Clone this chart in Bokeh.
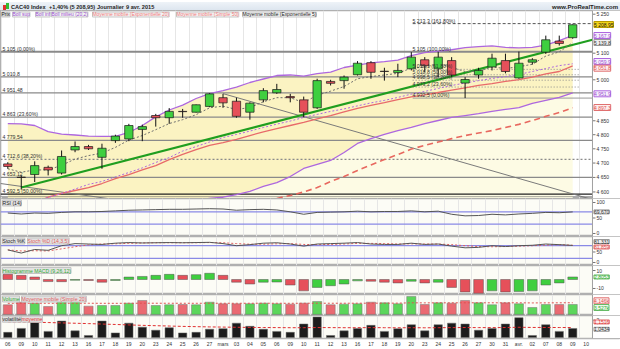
from bokeh.plotting import figure
from bokeh.layouts import column
from bokeh.models import (Range1d, FixedTicker, Grid, Label, Span, CustomJSTickFormatter, Div,
                          BoxAnnotation)
from bokeh.embed import file_html
from bokeh.resources import INLINE

# ---------------- data ----------------
dates = ["06","09","10","11","12","13","16","17","18","19","20","23","24","25","26","27",
         "mars","03","04","05","06","09","10","11","12","13","16","17","18","19","20","23",
         "24","25","26","27","30","31","avr.","02","07","08","09","10"]

opens  = [4697,4651,4660,4685,4665,4746,4758,4720,4779,4785,4819,4869,4861,4884,4881,4902,
          4934,4921,4881,4926,4952,4938,4926,4897,4994,4997,5019,5064,5032,5027,5041,5075,
          5041,5072,4988,5018,5048,5072,5007,5066,5104,5146,5159]
highs  = [4703,4657,4706,4691,4744,4776,4764,4768,4800,4839,4836,4875,4896,4893,4909,4951,
          4948,4934,4917,4969,4985,4948,4938,5004,5000,5016,5070,5070,5045,5060,5104,5085,
          5105,5085,5010,5045,5098,5098,5106,5081,5167,5167,5210]
lows   = [4680,4608,4634,4657,4660,4738,4746,4680,4771,4777,4777,4829,4839,4861,4880,4899,
          4897,4861,4854,4917,4948,4917,4863,4893,4979,4967,5016,5004,4997,5010,5035,5028,
          5010,5010,4932.5,5004,5035,5024,5004,5057,5097,5129,5155]
closes = [4688,4650,4691,4676,4723,4758,4750,4752,4795,4833,4829,4861,4884,4883,4908,4948,
          4915,4866,4914,4960,4964,4934,4881,4997,4987,5010,5062,5028,5031,5035,5085,5053,
          5085,5018,5001,5035,5081,5031,5062,5075,5151,5137,5208.95]

boll_sup = [4840,4839,4833,4811,4802,4799,4795,4794,4794,4808,4833,4864,4889,4907,4931,4949,
            4960,4973,4990,5003,5016,5018,5014,5023,5029,5046,5055,5063,5068,5074,5091,5102,
            5108,5113,5121,5125,5128,5122,5120,5122,5131,5148,5167.9]
boll_mid = [4537,4550,4567,4581,4595,4610,4626,4636,4652,4667,4683,4702,4719,4742,4758,4774,
            4790,4801,4813,4826,4838,4849,4862,4873,4884,4893,4904,4915,4924,4935,4947,4957,
            4968,4979,4988,4997,5005,5012,5020,5031,5042,5053,5059.9]
boll_inf = [4234,4261,4301,4351,4388,4421,4457,4478,4510,4526,4533,4540,4549,4565,4572,4578,
            4582,4591,4602,4619,4632,4653,4681,4695,4709,4737,4769,4786,4801,4815,4826,4840,
            4851,4862,4869,4876,4884,4891,4898,4913,4924,4935,4951.9]
ema20    = [4537,4550,4564,4582,4595,4605,4615,4629,4646,4660,4676,4691,4712,4730,4747,4762,
            4772,4783,4797,4810,4822,4833,4844,4857,4869,4882,4895,4906,4916,4927,4937,4944,
            4953,4962,4970,4979,4986,4994,5001,5010,5022,5031,5051.8]
sma50_start = 20
sma50    = [4578,4588,4600,4615,4636,4653,4674,4693,4712,4730,4749,4762,4774,4786,4797,4806,
            4815,4826,4837,4851,4866,4880,4897.3]
ema5     = [4680,4668,4676,4676,4692,4714,4726,4735,4755,4781,4797,4818,4840,4854,4872,4897,
            4903,4891,4898,4919,4934,4934,4916,4943,4958,4975,5004,5012,5018,5024,5044,5047,
            5060,5046,5031,5032,5048,5042,5049,5058,5089,5105,5140]

# horizontal levels
left_levels = [5105, 5010.8, 4951.48, 4863.0, 4779.54, 4650.0, 4592.5]
left_texts  = ["5 105 (0,00%)", "5 010,8", "4 951,48", "4 863 (23,60%)", "4 779,54", "4 653,12",
               "4 592,5 (50,00%)"]
fib38_level, fib38_text = 4712.6, "4 712,6 (38,20%)"
bottom_dotted_level = 4584.0
fib_right_levels = [5213.3, 5105.0, 5039.1, 5018.8, 4998.5, 4973.2, 4932.5]
fib_right_texts  = ["5 213,3 (161,80%)", "5 105 (100,00%)", "5 039,1 (61,80%)", "5 018,8 (50,00%)",
                    "4 998,5 (38,20%)", "4 973,2 (23,60%)", "4 932,5 (0,00%)"]
fib_right_start = 30.1
trend_green = (1.0, 4615.0, 43.47, 5151.0)
trend_gray1 = (16.0, 4949.0, 43.47, 4574.0)
trend_gray2 = (-0.54, 4629.0, 8.0, 4574.0)

price_ticks = [5250, 5100, 5000, 4850, 4800, 4750, 4700, 4650, 4600]
price_tick_labels = ["5 250", "5 100", "5 000", "4 850", "4 800", "4 750", "4 700", "4 650", "4 600"]

rsi     = [66,63,66,65,68,70,70,71,73,75,76,77,78,78,79,80,79,75,77,78,76,70,62,68,69,70,72,70,
           71,71,73,70,72,62,57,58,62,60,63,65,68,67,69.67]
stoch_k = [60,45,62,58,80,90,88,86,92,95,93,94,95,94,95,96,90,80,85,92,94,88,78,88,90,92,95,88,
           86,86,92,86,88,78,70,72,80,76,80,82,88,85,81.33]
stoch_d = [60,55,56,55,65,75,84,88,89,91,93,94,94,94,94,95,94,90,87,87,89,90,86,85,86,88,91,91,
           90,88,89,88,88,85,80,76,75,76,78,80,83,85,81.86]
macd_hist = [5.7,4.6,2.7,-2.3,-2.4,-0.8,-1.1,-3.0,-1.1,2.7,3.4,4.6,5.7,4.6,5.4,6.9,4.6,-3.0,-5.0,
             -3.0,-2.8,-6.1,-12.6,-8.8,-6.9,-5.0,-1.5,-1.9,-3.0,-3.8,-1.9,-3.8,-3.0,-8.8,-13.8,
             -15.3,-12.6,-13.8,-13.3,-12.6,-6.1,-3.8,2.8053]
volume  = [3.42,4.34,3.99,2.82,4.59,4.59,2.93,3.17,3.17,3.99,4.94,3.17,3.42,3.53,3.42,4.34,3.77,
           3.77,3.77,3.99,3.77,3.65,3.99,4.59,3.42,3.65,3.77,4.34,4.10,3.77,6.35,3.53,4.10,3.99,
           4.94,4.10,3.42,4.10,3.77,2.47,3.53,3.53,3.527]
vol_sma20 = [3.95,3.96,3.97,3.95,3.96,3.98,3.96,3.95,3.94,3.95,3.98,3.97,3.96,3.96,3.95,3.97,
             3.96,3.95,3.96,3.97,3.96,3.95,3.96,3.98,3.97,3.97,3.98,3.99,4.00,4.00,4.12,4.10,
             4.11,4.12,4.13,4.13,4.12,4.12,4.12,4.08,4.10,4.12,4.146]
volatility = [0.60,1.05,1.72,0.71,1.89,0.77,0.24,1.89,0.53,1.65,1.19,0.84,1.13,0.53,0.60,0.95,
              1.02,1.65,1.29,0.95,0.71,0.60,1.55,2.35,0.24,0.77,1.05,1.40,0.71,1.02,1.47,0.77,
              1.47,1.65,1.55,0.84,1.05,1.55,2.28,0.24,1.47,0.71,1.0434]
volatility_avg = [1.80,1.78,1.76,1.72,1.68,1.64,1.60,1.55,1.50,1.45,1.40,1.36,1.32,1.28,1.25,
                  1.22,1.20,1.18,1.16,1.15,1.14,1.13,1.13,1.15,1.14,1.13,1.13,1.14,1.13,1.12,
                  1.13,1.12,1.13,1.14,1.15,1.14,1.14,1.15,1.18,1.16,1.16,1.15,1.1516]

# ---------------- layout helpers ----------------
N = len(closes)
idx = list(range(N))
W = 620
SLOT = 13.45
X0 = -0.543
X1 = X0 + W / SLOT       # frame spans the whole width, axis strip drawn on the right
XA = 43.47               # position of the price axis line
FONT = "Liberation Sans"
GREEN, RED = "#3fcf3f", "#e6505a"
PURPLE = "#ad67df"

def ix(xpix):
    return (xpix - 7.3) / SLOT

def make_fig(h, y0, y1, log=False, bottom_axis=False, bg="#fcfcf6"):
    p = figure(width=W, height=h, x_range=Range1d(X0, X1), y_range=Range1d(y0, y1),
               y_axis_type="log" if log else "linear", y_axis_location=None,
               x_axis_location="below" if bottom_axis else None,
               output_backend="svg", toolbar_location=None,
               min_border_left=0, min_border_right=0, min_border_top=0, min_border_bottom=0,
               background_fill_color=bg, border_fill_color="#ffffff")
    p.grid.visible = False
    p.add_layout(Grid(dimension=0, ticker=FixedTicker(ticks=[i + 0.5 for i in range(-1, 43)]),
                      grid_line_color="#e6e6e6", grid_line_width=1))
    p.add_layout(BoxAnnotation(left=XA, fill_color="#ffffff", fill_alpha=1, line_color=None,
                               level="underlay"))
    p.add_layout(Span(location=XA, dimension="height", line_color="#a0a0a0", line_width=1))
    p.outline_line_color = "#b0b0b0"
    p.outline_line_width = 1.5
    return p

def ticks(p, vals, texts):
    p.segment(x0=XA, x1=XA + 3 / SLOT, y0=vals, y1=vals, line_color="#777777", line_width=1)
    for v, t in zip(vals, texts):
        p.add_layout(Label(x=XA + 4 / SLOT, y=v, text=t, text_font=FONT, text_font_size="5px",
                           text_color="#333333", text_baseline="middle", text_align="left"))

def lin_val(p_top_pix, h, y0, y1, ypix):
    return y1 - (ypix - p_top_pix) / h * (y1 - y0)

def tag(p, y, text, bg, border, color):
    p.add_layout(Label(x=XA + 1.5 / SLOT, y=y, text=text, text_font=FONT, text_font_size="5px",
                       text_color=color, text_baseline="middle", text_align="left",
                       background_fill_color=bg, border_line_color=border))

def panel_label(p, x, y, text, color):
    p.add_layout(Label(x=x, y=y, text=text, text_font=FONT, text_font_size="5.1px",
                       text_color=color, text_baseline="middle", text_align="left",
                       background_fill_color="#e2e2e2", border_line_color="#c4c4c4"))

# ---------------- header ----------------
header = Div(width=W, height=10, margin=(0, 0, 0, 0), text=f"""
<div style="position:relative;width:{W}px;height:10px;overflow:hidden;background:linear-gradient(#eef3f8,#dbe4ee);
font-family:'{FONT}';font-size:5.6px;font-weight:bold;color:#1e1e1e;line-height:10px;border-bottom:1px solid #b9c3cd;box-sizing:border-box;">
<span style="position:absolute;left:3px;top:3px;width:3px;height:5px;background:#e03030"></span>
<span style="position:absolute;left:6px;top:1px;width:3px;height:6px;background:#33bb33"></span>
<span style="position:absolute;left:11px;top:0px;">CAC40 Index</span>
<span style="position:absolute;left:49px;top:0px;">+1,40% (5 208,95)</span>
<span style="position:absolute;left:97px;top:0px;">Journalier</span>
<span style="position:absolute;left:126px;top:0px;">9 avr. 2015</span>
<span style="position:absolute;right:2px;top:0px;font-size:6px;">www.ProRealTime.com</span>
</div>""")

# ---------------- main price panel ----------------
PTOP, PBOT, MH = 5264.4, 4577.7, 188

def mpy(ypix):
    return PBOT * (PTOP / PBOT) ** ((10 + MH - ypix) / MH)

pm = make_fig(MH, PBOT, PTOP, log=True, bg="#ffffff")

pm.varea(x=idx, y1=4000, y2=boll_inf, fill_color="#fdfbe4", fill_alpha=1)
pm.varea(x=idx, y1=boll_inf, y2=boll_sup, fill_color="#fbf3c2", fill_alpha=1)

for lv in left_levels:
    w = 2 if lv == left_levels[0] else 1.3
    col = "#222222" if lv == left_levels[-1] else "#8a8a8a"
    pm.segment(x0=X0, x1=XA, y0=lv, y1=lv, line_color=col, line_width=w)
pm.segment(x0=X0, x1=XA, y0=fib38_level, y1=fib38_level, line_color="#8a8a8a",
           line_width=1.2, line_dash="2 2")
pm.segment(x0=X0, x1=XA, y0=bottom_dotted_level, y1=bottom_dotted_level, line_color="#555555",
           line_width=1, line_dash="1 1")

for k, lv in enumerate(fib_right_levels):
    if k == 0:
        pm.segment(x0=fib_right_start, y0=lv, x1=XA, y1=lv, line_color="#555555",
                   line_width=1, line_dash="3 2")
    elif k == len(fib_right_levels) - 1:
        pm.segment(x0=fib_right_start, y0=lv, x1=XA, y1=lv, line_color="#9a9a9a", line_width=1)
    elif lv != 5105.0:
        pm.segment(x0=fib_right_start, y0=lv, x1=42.5, y1=lv, line_color="#8a8a8a",
                   line_width=1, line_dash="1 2")

pm.segment(*[[v] for v in trend_gray1], line_color="#7a7a7a", line_width=1)
pm.segment(*[[v] for v in trend_gray2], line_color="#7a7a7a", line_width=1)

pm.line(idx[sma50_start:], sma50, line_color="#e8685f", line_width=1.6, line_dash="6 4")
pm.line(idx, ema20, line_color="#e86a6a", line_width=1.3)
pm.line(idx, boll_mid, line_color=PURPLE, line_width=1, line_dash="2 2")
pm.line(idx, boll_sup, line_color=PURPLE, line_width=1.3)
pm.line(idx, boll_inf, line_color=PURPLE, line_width=1.3)
pm.segment(*[[v] for v in trend_green], line_color="#1f9e1f", line_width=2)
pm.line(idx, ema5, line_color="#6e6e6e", line_width=1, line_dash="2 2")

body_top = [max(o, c) if abs(o - c) >= 1 else o + 0.5 for o, c in zip(opens, closes)]
body_bot = [min(o, c) if abs(o - c) >= 1 else o - 0.5 for o, c in zip(opens, closes)]
body_col = [GREEN if c >= o else RED for o, c in zip(opens, closes)]
pm.segment(x0=idx, y0=lows, x1=idx, y1=highs, line_color="#111111", line_width=1)
pm.vbar(x=idx, width=0.62, top=body_top, bottom=body_bot, fill_color=body_col,
        line_color="#1a1a1a", line_width=0.7)

for lv, t in zip(left_levels, left_texts):
    pm.add_layout(Label(x=ix(2), y=lv, text=t, text_font=FONT, text_font_size="5.2px",
                        text_color="#333333", text_baseline="bottom"))
pm.add_layout(Label(x=ix(2), y=fib38_level, text=fib38_text, text_font=FONT,
                    text_font_size="5.2px", text_color="#333333", text_baseline="bottom"))
for lv, t in zip(fib_right_levels, fib_right_texts):
    pm.add_layout(Label(x=ix(412), y=lv, text=t, text_font=FONT, text_font_size="5.2px",
                        text_color="#333333", text_baseline="bottom"))

leg = [(1, "Prix", "#222222", "#d6d6d6"), (12, "Boll sup", "#9b4fd0", "#f3f3f3"),
       (35, "Boll inf", "#9b4fd0", "#f3f3f3"), (51, "Boll milieu (20,2)", "#9b4fd0", "#f3f3f3"),
       (92, "Moyenne mobile (Exponentielle 20)", "#f07a7a", "#f3f3f3"),
       (176, "Moyenne mobile (Simple 50)", "#f07a7a", "#f3f3f3"),
       (242, "Moyenne mobile (Exponentielle 5)", "#222222", "#f3f3f3")]
for xp, t, c, bg in leg:
    pm.add_layout(Label(x=ix(xp), y=mpy(14), text=t, text_font=FONT, text_font_size="4.9px",
                        text_color=c, text_baseline="middle", background_fill_color=bg,
                        border_line_color="#c8c8c8"))

ticks(pm, price_ticks, price_tick_labels)
tag(pm, mpy(24), "5 208,95", "#f2d31b", "#b89b00", "#111111")
tag(pm, mpy(35), "5 167,9", "#f6effc", PURPLE, "#9b4fd0")
tag(pm, mpy(42), "5 139,8", "#eeeeee", "#999999", "#333333")
tag(pm, mpy(61), "5 059,9", "#f6effc", PURPLE, "#9b4fd0")
tag(pm, mpy(67.7), "5 051,8", "#fdeeee", "#e07070", "#e05050")
tag(pm, mpy(93.3), "4 951,9", "#f6effc", PURPLE, "#9b4fd0")
tag(pm, mpy(107), "4 897,3", "#fdeeee", "#e07070", "#e05050")

# ---------------- RSI ----------------
R_TOP, R_H, R0, R1 = 198, 38, -9.68, 112.9
pr = make_fig(R_H, R0, R1)
for lv in (70, 30):
    pr.segment(x0=X0, x1=XA, y0=lv, y1=lv, line_color="#8a8ae6", line_width=1.2)
pr.line(idx, rsi, line_color="#555555", line_width=1)
ticks(pr, [100, 50, 0], ["100", "50", "0"])
panel_label(pr, ix(2), lin_val(R_TOP, R_H, R0, R1, 202.5), "RSI (14)", "#222222")
tag(pr, 69.67, "69,670", "#eeeeee", "#999999", "#333333")

# ---------------- Stochastic ----------------
S_TOP, S_H, S0, S1 = 236, 29, -14.3, 123.8
ps = make_fig(S_H, S0, S1)
for lv in (80, 20):
    ps.segment(x0=X0, x1=XA, y0=lv, y1=lv, line_color="#8a8ae6", line_width=1.2)
ps.line(idx, stoch_d, line_color="#e06060", line_width=1, line_dash="2 2")
ps.line(idx, stoch_k, line_color="#555555", line_width=1)
ticks(ps, [50, 0], ["50", "0"])
panel_label(ps, ix(2), lin_val(S_TOP, S_H, S0, S1, 240.5), "Stoch %K", "#222222")
panel_label(ps, ix(27), lin_val(S_TOP, S_H, S0, S1, 240.5), "Stoch %D (14,3,5)", "#e06060")
tag(ps, lin_val(S_TOP, S_H, S0, S1, 241), "81,331", "#eeeeee", "#999999", "#333333")
tag(ps, lin_val(S_TOP, S_H, S0, S1, 246.5), "81,859", "#fdeeee", "#e07070", "#e05050")

# ---------------- MACD histogram ----------------
M_TOP, M_H, M0, M1 = 265, 29, -16.67, 15.56
pmac = make_fig(M_H, M0, M1)
mcol = [RED] + [GREEN if macd_hist[i] >= macd_hist[i - 1] else RED for i in range(1, N)]
pmac.vbar(x=idx, width=0.72, top=macd_hist, bottom=0, fill_color=mcol, line_color="#555555",
          line_width=0.5)
ticks(pmac, [10, -10], ["10", "-10"])
panel_label(pmac, ix(2), lin_val(M_TOP, M_H, M0, M1, 270), "Histogramme MACD (9,26,12)", "#33aa33")
tag(pmac, 2.8053, "2,8053", "#eaf8ea", "#66bb66", "#33aa33")

# ---------------- Volume ----------------
V_TOP, V_H, V0, V1 = 294, 21, -0.353, 7.05
pv = make_fig(V_H, V0, V1)
vcol = [RED if closes[0] < opens[0] else GREEN] + \
       [GREEN if closes[i] >= closes[i - 1] else RED for i in range(1, N)]
pv.vbar(x=idx, width=0.68, top=volume, bottom=0, fill_color=vcol, line_color="#777777",
        line_width=0.5, fill_alpha=0.85)
pv.line(idx, vol_sma20, line_color="#e05050", line_width=1, line_dash="2 2")
panel_label(pv, ix(2), lin_val(V_TOP, V_H, V0, V1, 298.5), "Volume", "#33aa33")
panel_label(pv, ix(21), lin_val(V_TOP, V_H, V0, V1, 298.5), "Moyenne mobile (Simple 20)", "#e06060")
tag(pv, lin_val(V_TOP, V_H, V0, V1, 300.3), "4,146k", "#fdeeee", "#e07070", "#e05050")
tag(pv, lin_val(V_TOP, V_H, V0, V1, 307), "3,527k", "#eaf8ea", "#66bb66", "#33aa33")

# ---------------- Volatility ----------------
T_TOP, T_H, T0, T1 = 315, 25, -0.105, 2.526
pt = make_fig(T_H + 9, T0, T1, bottom_axis=True)
pt.vbar(x=idx, width=0.62, top=volatility, bottom=0, fill_color="#1c1c1c", line_color="#666666",
        line_width=0.5)
pt.line(idx, volatility_avg, line_color="#e03030", line_width=1, line_dash="3 2")
ticks(pt, [2], ["2"])
panel_label(pt, ix(2), lin_val(T_TOP, T_H, T0, T1, 319), "volatilité", "#222222")
panel_label(pt, ix(21), lin_val(T_TOP, T_H, T0, T1, 319), "moyenne", "#e03030")
tag(pt, lin_val(T_TOP, T_H, T0, T1, 322), "1,1516", "#fdeeee", "#e07070", "#e03030")
tag(pt, lin_val(T_TOP, T_H, T0, T1, 330), "1,0434", "#eeeeee", "#999999", "#333333")
xa = pt.xaxis[0]
xa.ticker = FixedTicker(ticks=list(range(len(dates))))
xa.formatter = CustomJSTickFormatter(args=dict(labels=dates),
                                     code="return labels[Math.round(tick)] || '';")
xa.major_label_text_font_size = "5px"
xa.major_label_text_font = FONT
xa.major_label_text_color = "#333333"
xa.major_tick_out = 0
xa.major_tick_in = 0
xa.minor_tick_line_color = None
xa.axis_line_color = "#b5b5b5"
xa.major_label_standoff = 2

layout = column(header, pm, pr, ps, pmac, pv, pt, spacing=0)
open("out.html", "w").write(file_html(layout, INLINE))
